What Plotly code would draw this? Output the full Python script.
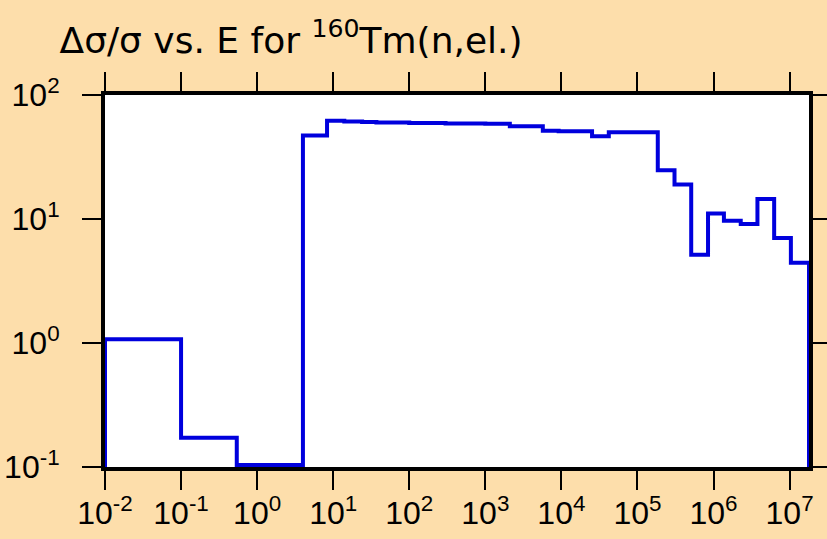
import plotly.graph_objects as go
import math

# Bin edges (eV) and relative uncertainty values (%)
edges = [1e-2, 1e-1, 0.54, 4.0, 8.3, 14, 24, 37, 100, 300, 1000, 2100, 5700, 9200,
         25300, 42000, 1.85e5, 3.07e5, 5.09e5, 8.47e5, 1.37e6, 2.28e6, 3.78e6,
         6.27e6, 1.04e7, 1.8e7]
values = [1.07, 0.172, 0.104, 47.1, 62, 61, 60.5, 60, 59.5, 59, 58.5, 56, 51.6,
          50.9, 46.5, 50.0, 24.7, 19.0, 5.16, 11.06, 9.68, 9.1, 14.5, 7.03, 4.43]

x_tickvals = [1e-2, 1e-1, 1e0, 1e1, 1e2, 1e3, 1e4, 1e5, 1e6, 1e7]
x_ticktext = ["10<sup>-2</sup>", "10<sup>-1</sup>", "10<sup>0</sup>", "10<sup>1</sup>",
              "10<sup>2</sup>", "10<sup>3</sup>", "10<sup>4</sup>", "10<sup>5</sup>",
              "10<sup>6</sup>", "10<sup>7</sup>"]
y_tickvals = [1e-1, 1e0, 1e1, 1e2]
y_ticktext = ["10<sup>-1</sup>", "10<sup>0</sup>", "10<sup>1</sup>", "10<sup>2</sup>"]

x_range_log = [math.log10(edges[0]), math.log10(edges[-1])]
y_range_log = [-1, 2]
y_floor = 10 ** y_range_log[0]

# Histogram outline (drops to the axis floor at both ends)
xs = [edges[0]] + edges[:-1] + [edges[-1], edges[-1]]
ys = [y_floor] + values + [values[-1], y_floor]

fig = go.Figure()
fig.add_trace(go.Scatter(x=xs, y=ys, mode="lines", line_shape="hv",
                         line=dict(color="#0000dd", width=4),
                         hoverinfo="skip", showlegend=False))

tick_font = dict(family="Liberation Sans, Arial, sans-serif", size=32, color="black")
axis_common = dict(type="log", showline=True, linewidth=4, linecolor="black",
                   mirror="ticks", ticks="outside", ticklen=19, tickwidth=2,
                   tickcolor="black", showgrid=False, zeroline=False,
                   automargin=False, tickfont=tick_font)

fig.update_xaxes(range=x_range_log, tickvals=x_tickvals, ticktext=x_ticktext,
                 ticklabelstandoff=-4, **axis_common)
fig.update_yaxes(range=y_range_log, tickvals=y_tickvals, ticktext=y_ticktext,
                 ticklabelstandoff=16, **axis_common)

fig.update_layout(
    width=827, height=539,
    paper_bgcolor="#fddeab", plot_bgcolor="white",
    margin=dict(l=105, r=18, t=95, b=72),
    hovermode=False,
    title=dict(text="\u0394\u03c3/\u03c3 vs. E for <sup>160</sup>Tm(n,el.)",
               x=0.072, xanchor="left", xref="container",
               y=1 - 40 / 539, yanchor="middle", yref="container",
               font=dict(family="DejaVu Sans, Liberation Sans, sans-serif",
                         size=36, color="black")),
)

fig.write_html(
    "out.html",
    config={"displayModeBar": False},
    post_script="document.body.style.margin='0';"
                "document.body.style.overflow='hidden';"
                "document.documentElement.style.overflow='hidden';",
)
